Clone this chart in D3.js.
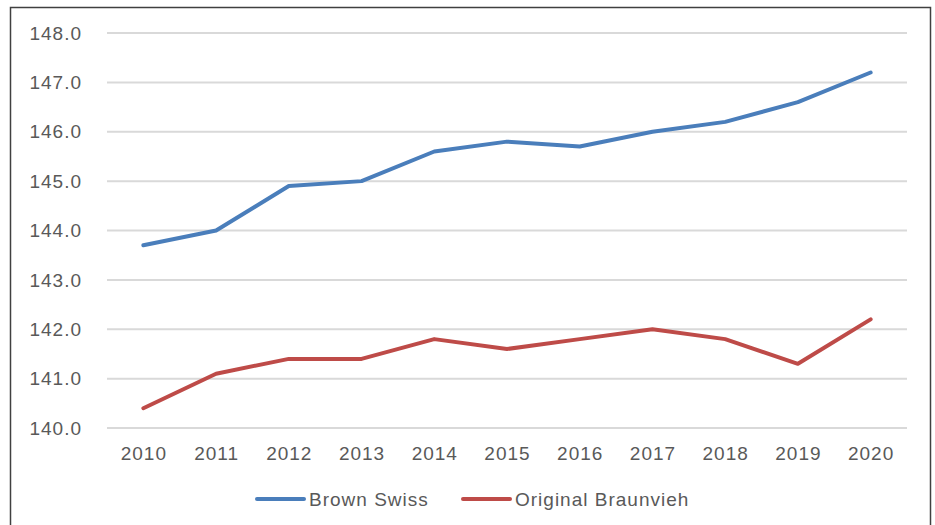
<!DOCTYPE html>
<html>
<head>
<meta charset="utf-8">
<script src="https://cdn.jsdelivr.net/npm/d3@7"></script>
<style>
  body { margin: 0; background: #fff; }
  svg { display: block; font-family: "Liberation Sans", Arial, sans-serif; }
  text { letter-spacing: 1px; }
</style>
</head>
<body>
<div id="chart"></div>
<script>
const years = ["2010", "2011", "2012", "2013", "2014", "2015", "2016", "2017", "2018", "2019", "2020"];
const brownSwiss = [143.7, 144.0, 144.9, 145.0, 145.6, 145.8, 145.7, 146.0, 146.2, 146.6, 147.2];
const originalBraunvieh = [140.4, 141.1, 141.4, 141.4, 141.8, 141.6, 141.8, 142.0, 141.8, 141.3, 142.2];
const yTicks = [140, 141, 142, 143, 144, 145, 146, 147, 148];

const series = [
  { name: "Brown Swiss", values: brownSwiss, color: "#4a7ebb" },
  { name: "Original Braunvieh", values: originalBraunvieh, color: "#be4b48" }
];

const width = 935, height = 525;
const svg = d3.select("#chart").append("svg")
  .attr("width", width).attr("height", height);

// outer frame (bottom edge runs off the image)
svg.append("rect")
  .attr("x", 10.5).attr("y", 7.5)
  .attr("width", 920).attr("height", 530)
  .attr("fill", "none").attr("stroke", "#404040").attr("stroke-width", 1.5);

const x = d3.scaleBand().domain(years).range([107, 907]);
const y = d3.scaleLinear().domain([140, 148]).range([428, 33]);

// gridlines
svg.append("g")
  .selectAll("line")
  .data(yTicks)
  .join("line")
  .attr("x1", 107).attr("x2", 907)
  .attr("y1", d => y(d)).attr("y2", d => y(d))
  .attr("stroke", "#d9d9d9").attr("stroke-width", 2);

// y labels
svg.append("g")
  .selectAll("text")
  .data(yTicks)
  .join("text")
  .attr("x", 82).attr("y", d => y(d))
  .attr("dy", "0.35em")
  .attr("text-anchor", "end")
  .attr("font-size", 19).attr("fill", "#595959")
  .text(d => d.toFixed(1));

// x labels
svg.append("g")
  .selectAll("text")
  .data(years)
  .join("text")
  .attr("x", d => x(d) + x.bandwidth() / 2 + 0.5)
  .attr("y", 460)
  .attr("text-anchor", "middle")
  .attr("font-size", 19).attr("fill", "#595959")
  .text(d => d);

const line = d3.line()
  .x((d, i) => x(years[i]) + x.bandwidth() / 2)
  .y(d => y(d));

svg.append("g")
  .selectAll("path")
  .data(series)
  .join("path")
  .attr("d", d => line(d.values))
  .attr("fill", "none")
  .attr("stroke", d => d.color)
  .attr("stroke-width", 4)
  .attr("stroke-linecap", "round")
  .attr("stroke-linejoin", "round");

// legend
const legendX = [257, 463];
const lg = svg.append("g")
  .selectAll("g")
  .data(series)
  .join("g")
  .attr("transform", (d, i) => `translate(${legendX[i]},499)`);
lg.append("line")
  .attr("x1", 0).attr("x2", 47)
  .attr("stroke", d => d.color).attr("stroke-width", 4)
  .attr("stroke-linecap", "round");
lg.append("text")
  .attr("x", 52).attr("dy", "0.35em")
  .attr("font-size", 19).attr("fill", "#595959")
  .text(d => d.name);
</script>
</body>
</html>
